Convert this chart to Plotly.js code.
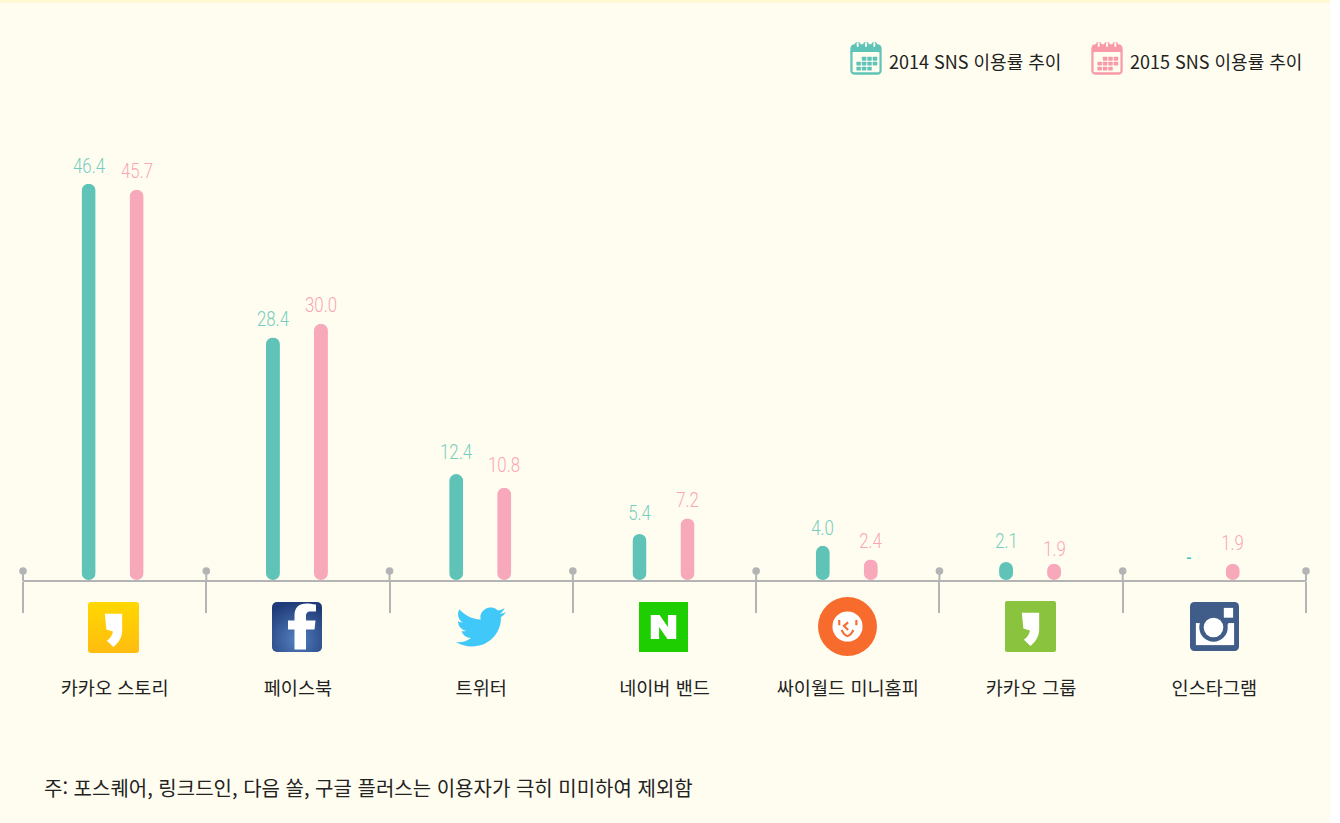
<!DOCTYPE html>
<html lang="ko"><head><meta charset="utf-8">
<script src="https://cdn.plot.ly/plotly-3.0.1.min.js"></script>
<style>
html,body{margin:0;padding:0;background:#fff;overflow:hidden}
#chart{width:1330px;height:823px}
.bars .point path{clip-path:inset(0 round 7px) fill-box}
.narrow-off{}
</style></head><body><div id="chart"></div>
<script>
const categories=['카카오 스토리','페이스북','트위터','네이버 밴드','싸이월드 미니홈피','카카오 그룹','인스타그램'];
const values2014=[46.4,28.4,12.4,5.4,4.0,2.1,null];
const values2015=[45.7,30.0,10.8,7.2,2.4,1.9,1.9];
const seriesNames=['2014 SNS 이용률 추이','2015 SNS 이용률 추이'];
const footnote='주: 포스퀘어, 링크드인, 다음 쏠, 구글 플러스는 이용자가 극히 미미하여 제외함';
const labelLift2014=[18,18,22,21,18,21,23];
const labelLift2015=[19,19,23,19,19,15,21];

const W=1330,H=823,BG='#FFFDF0',KR='"Noto Sans CJK KR","Noto Sans",sans-serif',NUM='Roboto,"Liberation Sans",sans-serif';
const C14='#5FC4B7',C15='#F7A9BB',L14='#76CDBF',L15='#F9A5B5',AXIS='#B4B4B4';
const left=23,right=1306,step=(right-left)/7,zeroY=580,pxPerUnit=8.54,barW=14;
const px=x=>x/W, py=y=>1-y/H;
const off14=categories.map((c,i)=>i===0?-26:-25);
const off15=categories.map((c,i)=>i===6?18.4:i===0?22:23);

function svg(s){return 'data:image/svg+xml;charset=utf-8,'+encodeURIComponent(`<svg xmlns="http://www.w3.org/2000/svg" viewBox="0 0 100 100">${s}</svg>`);}
const quote=(c)=>`<path d="M33 23H67V56C67 70 60 80 50 88L37 76C44 71 48 65 49 58L36 54Z" fill="${c}"/>`;
const icons=[
 svg(`<defs><linearGradient id="g" x1="0" y1="0" x2="0" y2="1"><stop offset="0" stop-color="#FFD800"/><stop offset="1" stop-color="#FFBC10"/></linearGradient></defs><rect width="100" height="100" rx="6" fill="url(#g)"/>`+quote('#fff')),
 svg(`<defs><radialGradient id="f" cx=".5" cy=".75" r=".75"><stop offset="0" stop-color="#5580C0"/><stop offset="1" stop-color="#1F3C78"/></radialGradient></defs><rect width="100" height="100" rx="10" fill="url(#f)"/><path d="M45 95V55H32V37H45V27C45 10 55 3 69 3C74 3 80 4 88 5V19H77C70 19 68 23 68 29V37H87L85 55H68V95Z" fill="#fff"/>`),
 svg(`<g transform="scale(4.1666)"><path fill="#40C8F8" d="M23.953 4.57a10 10 0 01-2.825.775 4.958 4.958 0 002.163-2.723c-.951.555-2.005.959-3.127 1.184a4.92 4.92 0 00-8.384 4.482C7.69 8.095 4.067 6.13 1.64 3.162a4.822 4.822 0 00-.666 2.475c0 1.71.87 3.213 2.188 4.096a4.904 4.904 0 01-2.228-.616v.06a4.923 4.923 0 003.946 4.827 4.996 4.996 0 01-2.212.085 4.936 4.936 0 004.604 3.417 9.867 9.867 0 01-6.102 2.105c-.39 0-.779-.023-1.17-.067a13.995 13.995 0 007.557 2.209c9.053 0 13.998-7.496 13.998-13.985 0-.21 0-.42-.015-.63A9.935 9.935 0 0024 4.59z"/></g>`),
 svg(`<rect width="100" height="100" fill="#1FCE00"/><path d="M24 26H42L59 50V26H76V74H58L41 50V74H24Z" fill="#fff"/>`),
 svg(`<circle cx="50" cy="50" r="50" fill="#F76B2D"/><circle cx="50" cy="50" r="25.5" fill="#fff"/><path d="M36 39V48M65 39V48M51 43L44 49L51 56M40 56Q50 76 60 56" fill="none" stroke="#F76B2D" stroke-width="3.6"/>`),
 svg(`<rect width="100" height="100" rx="4" fill="#8AC43F"/>`+quote('#fff')),
 svg(`<rect width="100" height="100" rx="9" fill="#405C88"/><rect x="12" y="43" width="78" height="45" fill="#fff"/><rect x="69" y="12" width="19" height="20" fill="#fff"/><rect x="20" y="38" width="58" height="8" fill="#405C88"/><circle cx="48" cy="52" r="29" fill="#405C88"/><circle cx="48" cy="52" r="20" fill="#fff"/>`)
];
const iconBox=[[88,602,51,51],[272,602,50,50],[456,603,50,48],[639,602,49,50],[818,597,59,59],[1005,601,51,51],[1190,602,49,49]];
function calendar(c){
 let cells='';
 [[37,54,71],[20,37,54,71],[20,37,54]].forEach((row,i)=>{row.forEach(x=>{cells+=`<rect x="${x}" y="${[45,60,75][i]}" width="14" height="11.5" rx="1.5" fill="${c}"/>`;});});
 return svg(`<rect x="1" y="7" width="98" height="92" rx="13" fill="${c}"/><rect x="8" y="30" width="84" height="62" rx="4" fill="${BG}"/>`+
  [15,41,67].map(x=>`<rect x="${x}" y="0" width="18" height="22" rx="8" fill="${c}"/><rect x="${x+6}" y="1" width="6" height="14" rx="3" fill="${BG}"/>`).join('')+cells);
}
const images=icons.map((src,i)=>{const b=iconBox[i];return {source:src,xref:'paper',yref:'paper',x:px(b[0]),y:py(b[1]),sizex:b[2]/W,sizey:b[3]/H,xanchor:'left',yanchor:'top',sizing:'stretch',layer:'above'};});
images.push({source:calendar('#5FC4B7'),xref:'paper',yref:'paper',x:px(850),y:py(42),sizex:32/W,sizey:33/H,xanchor:'left',yanchor:'top',sizing:'stretch'});
images.push({source:calendar('#F99AA8'),xref:'paper',yref:'paper',x:px(1091),y:py(42),sizex:32/W,sizey:33/H,xanchor:'left',yanchor:'top',sizing:'stretch'});

const unit=1/step;
const bar=(name,y,color,offsetPx)=>({type:'bar',name,x:categories,y,width:barW*unit,
  offset:offsetPx.map(o=>(o-barW/2)*unit),marker:{color,line:{width:0}},hoverinfo:'x+y'});
const traces=[bar(seriesNames[0],values2014,C14,off14),bar(seriesNames[1],values2015,C15,off15)];

const ann=[];
const addLabels=(vals,color,off,lift)=>vals.forEach((v,i)=>{
  ann.push({xref:'x',yref:'y',x:i,y:v===null?0:v,xshift:off[i],yshift:lift[i],text:v===null?'-':v.toFixed(1),showarrow:false,xanchor:'center',yanchor:'middle',font:v===null?{family:NUM,size:20,weight:400,color:'#35C4BE'}:{family:NUM,size:20,weight:300,color}});
});
addLabels(values2014,L14,off14,labelLift2014);addLabels(values2015,L15,off15,labelLift2015);
const valueLabelCount=ann.length;
const pt=(t,x,y,size)=>({xref:'paper',yref:'paper',x:px(x),y:py(y),text:t,showarrow:false,xanchor:'left',yanchor:'middle',font:{family:KR,size,color:'#222'}});
ann.push(pt(seriesNames[0],887,61,18),pt(seriesNames[1],1128,61,18),pt(footnote,42,787,20));

const narrow=document.createElement('style');
narrow.textContent=Array.from({length:valueLabelCount},(_,i)=>`.annotation[data-index="${i}"] .annotation-text`).join(',')+'{transform:scaleX(.84);transform-box:fill-box;transform-origin:center}';
document.head.appendChild(narrow);

const shapes=[{type:'rect',xref:'paper',yref:'paper',x0:0,x1:1,y0:py(3),y1:1,fillcolor:'#FFF9D4',line:{width:0},layer:'below'}];
for(let i=0;i<=7;i++){
  const tx=px(left+i*step);
  shapes.push({type:'circle',xref:'paper',yref:'paper',xsizemode:'pixel',ysizemode:'pixel',xanchor:tx,yanchor:py(571),x0:-3.8,x1:3.8,y0:-3.8,y1:3.8,fillcolor:AXIS,line:{width:0}});
  shapes.push({type:'line',xref:'paper',yref:'paper',x0:tx,x1:tx,y0:py(571),y1:py(581),line:{color:AXIS,width:2}});
}

Plotly.newPlot('chart',traces,{
  width:W,height:H,margin:{l:0,r:0,t:0,b:0,pad:0},autosize:false,showlegend:false,
  paper_bgcolor:BG,plot_bgcolor:'rgba(0,0,0,0)',barmode:'overlay',
  xaxis:{type:'category',categoryorder:'array',categoryarray:categories,domain:[px(left),px(right)],range:[-0.5,6.5],automargin:false,
    showline:true,linecolor:AXIS,linewidth:2,showgrid:false,zeroline:false,tickson:'boundaries',ticks:'outside',ticklen:31,tickwidth:2,tickcolor:AXIS,
    ticklabelstandoff:91,tickfont:{family:KR,size:18.6,color:'#222'},tickangle:0},
  yaxis:{visible:false,domain:[py(zeroY),1],range:[0,zeroY/pxPerUnit],automargin:false},
  images,annotations:ann,shapes
},{displayModeBar:false,responsive:false});
</script></body></html>
